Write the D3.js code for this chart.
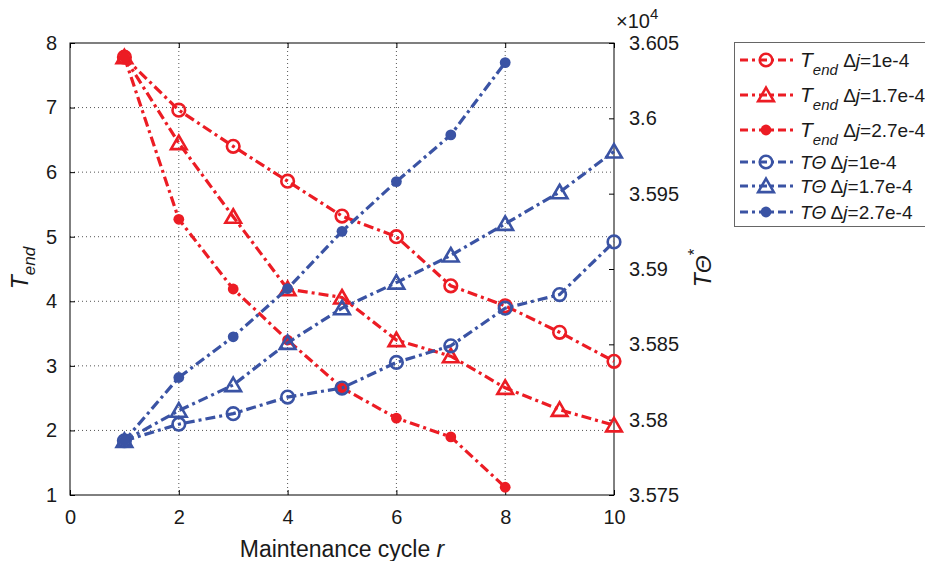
<!DOCTYPE html>
<html>
<head>
<meta charset="utf-8">
<script src="https://cdn.jsdelivr.net/npm/d3@7"></script>
<style>
  html, body { margin: 0; padding: 0; background: #fff; }
  svg { display: block; font-family: Arial, "Liberation Sans", Helvetica, sans-serif; }
</style>
</head>
<body>
<div id="chart"></div>
<script>
'use strict';

// ------------ DATA ---------------- //

const cycles      = [1, 2, 3, 4, 5, 6, 7, 8, 9, 10];
const xTicks      = [0, 2, 4, 6, 8, 10];
const leftTicks   = [1, 2, 3, 4, 5, 6, 7, 8];
const rightTicks  = [35750, 35800, 35850, 35900, 35950, 36000, 36050];

// T_end (left axis)
const tendDj1    = [7.78, 6.96, 6.40, 5.86, 5.32, 5.00, 4.24, 3.93, 3.52, 3.07];
const tendDj17   = [7.78, 6.45, 5.31, 4.19, 4.06, 3.40, 3.15, 2.66, 2.32, 2.08];
const tendDj27   = [7.78, 5.27, 4.19, 3.40, 2.66, 2.19, 1.90, 1.12];

// T-Theta* (right axis)
const thetaDj1   = [35786, 35797, 35804, 35815, 35821, 35838, 35849, 35874, 35883, 35918];
const thetaDj17  = [35786, 35806, 35823, 35851, 35874, 35891, 35909, 35930, 35951, 35978];
const thetaDj27  = [35786, 35828, 35855, 35887, 35925, 35958, 35989, 36037];

const legendLabels = ['1e-4', '1.7e-4', '2.7e-4', '1e-4', '1.7e-4', '2.7e-4'];

// ------------ LAYOUT ---------------- //

const W = 925, H = 561;
const P = {left: 70, right: 614, top: 43, bottom: 495};
const RED  = '#ec1c24';
const BLUE = '#3a53a4';
const DASH = '10,4,3,4';

const x  = d3.scaleLinear().domain([0, 10]).range([P.left, P.right]);
const yL = d3.scaleLinear().domain([1, 8]).range([P.bottom, P.top]);
const yR = d3.scaleLinear().domain([35750, 36050]).range([P.bottom, P.top]);

const svg = d3.select('#chart').append('svg')
    .attr('width', W).attr('height', H);

// grid
const grid = svg.append('g');
grid.selectAll('.gx').data(xTicks.filter(d => d > 0 && d < 10)).enter()
    .append('line')
    .attr('x1', d => x(d)).attr('x2', d => x(d))
    .attr('y1', P.top).attr('y2', P.bottom)
    .attr('stroke', '#555').attr('stroke-width', 1).attr('stroke-dasharray', '1,3');
grid.selectAll('.gy').data(leftTicks.filter(d => d > 1 && d < 8)).enter()
    .append('line')
    .attr('x1', P.left).attr('x2', P.right)
    .attr('y1', d => yL(d)).attr('y2', d => yL(d))
    .attr('stroke', '#555').attr('stroke-width', 1).attr('stroke-dasharray', '1,3');

// axes
const tickFont = g => g.selectAll('text')
    .attr('font-size', 20).attr('fill', '#1a1a1a')
    .attr('font-family', 'Arial, "Liberation Sans", Helvetica, sans-serif');

const axisStyle = g => {
    g.select('.domain').remove();
    g.selectAll('.tick line').attr('stroke', '#000');
    tickFont(g);
};

svg.append('g')
    .attr('transform', `translate(0,${P.bottom})`)
    .call(d3.axisBottom(x).tickValues(xTicks).tickSize(-5).tickPadding(15).tickFormat(d3.format('d')))
    .call(axisStyle);
svg.append('g')
    .attr('transform', `translate(0,${P.top})`)
    .call(d3.axisTop(x).tickValues(xTicks).tickSize(-5).tickFormat(''))
    .call(axisStyle);
svg.append('g')
    .attr('transform', `translate(${P.left},0)`)
    .call(d3.axisLeft(yL).tickValues(leftTicks).tickSize(-5).tickPadding(13).tickFormat(d3.format('d')))
    .call(axisStyle);
svg.append('g')
    .attr('transform', `translate(${P.right},0)`)
    .call(d3.axisRight(yR).tickValues(rightTicks).tickSize(-5).tickPadding(15)
        .tickFormat(d => String(+(d / 1e4).toFixed(3))))
    .call(axisStyle);

// box
svg.append('rect')
    .attr('x', P.left).attr('y', P.top)
    .attr('width', P.right - P.left).attr('height', P.bottom - P.top)
    .attr('fill', 'none').attr('stroke', '#000').attr('stroke-width', 1);

// axis labels
const xl = svg.append('text')
    .attr('x', (P.left + P.right) / 2).attr('y', 557)
    .attr('text-anchor', 'middle').attr('font-size', 23).attr('fill', '#1a1a1a');
xl.append('tspan').text('Maintenance cycle ');
xl.append('tspan').attr('font-style', 'italic').text('r');

const yl = svg.append('text')
    .attr('transform', 'translate(28,268) rotate(-90)')
    .attr('text-anchor', 'middle').attr('font-size', 23).attr('fill', '#1a1a1a');
yl.append('tspan').attr('font-style', 'italic').text('T');
yl.append('tspan').attr('font-style', 'italic').attr('font-size', 17).attr('dy', 7).text('end');

const yr = svg.append('text')
    .attr('transform', 'translate(711,268) rotate(-90)')
    .attr('text-anchor', 'middle').attr('font-size', 23).attr('fill', '#1a1a1a');
yr.append('tspan').attr('font-style', 'italic').text('TΘ');
yr.append('tspan').attr('font-size', 17).attr('dy', -11).text('*');

const ex = svg.append('text')
    .attr('x', 616).attr('y', 28).attr('fill', '#1a1a1a');
ex.append('tspan').attr('font-size', 20).text('×');
ex.append('tspan').attr('font-size', 20).text('10');
ex.append('tspan').attr('font-size', 15).attr('dy', -9).text('4');

// ------------ SERIES ---------------- //

const triPath = s => `M0,${-s * 0.55}L${s * 0.58},${s * 0.45}L${-s * 0.58},${s * 0.45}Z`;

const drawMarker = (g, type, color) => {
    if (type === 'circle') {
        g.append('circle').attr('r', 6.3).attr('fill', 'none')
            .attr('stroke', color).attr('stroke-width', 2.6);
    } else if (type === 'tri') {
        g.append('path').attr('d', triPath(13.5)).attr('fill', 'none')
            .attr('stroke', color).attr('stroke-width', 2.6).attr('stroke-linejoin', 'miter');
    } else {
        g.append('circle').attr('r', 5.4).attr('fill', color);
    }
};

const series = [
    {vals: tendDj1,   y: yL, color: RED,  type: 'circle'},
    {vals: tendDj17,  y: yL, color: RED,  type: 'tri'},
    {vals: tendDj27,  y: yL, color: RED,  type: 'dot'},
    {vals: thetaDj1,  y: yR, color: BLUE, type: 'circle'},
    {vals: thetaDj17, y: yR, color: BLUE, type: 'tri'},
    {vals: thetaDj27, y: yR, color: BLUE, type: 'dot'}
];

series.forEach(s => {
    const pts = s.vals.map((v, i) => [cycles[i], v]);
    const line = d3.line().x(d => x(d[0])).y(d => s.y(d[1]));
    const g = svg.append('g');
    g.append('path').datum(pts).attr('d', line)
        .attr('fill', 'none').attr('stroke', s.color).attr('stroke-width', 3.2)
        .attr('stroke-dasharray', DASH);
    g.selectAll('.m').data(pts).enter().append('g')
        .attr('transform', d => `translate(${x(d[0])},${s.y(d[1])})`)
        .each(function () { drawMarker(d3.select(this), s.type, s.color); });
});

// ------------ LEGEND ---------------- //

const legend = svg.append('g');
legend.append('rect')
    .attr('x', 734.5).attr('y', 42.5).attr('width', 200).attr('height', 184)
    .attr('fill', '#fff').attr('stroke', '#666').attr('stroke-width', 1);

const legendY = [60, 95, 130, 162, 186, 212];
series.forEach((s, i) => {
    const g = legend.append('g').attr('transform', `translate(0,${legendY[i]})`);
    g.append('line').attr('x1', 740).attr('x2', 793).attr('y1', 0).attr('y2', 0)
        .attr('stroke', s.color).attr('stroke-width', 3.2).attr('stroke-dasharray', '8,4,3,4');
    const m = g.append('g').attr('transform', 'translate(766,0)');
    drawMarker(m, s.type, s.color);
    const t = g.append('text').attr('x', 800).attr('y', 7)
        .attr('font-size', 19).attr('fill', '#1a1a1a');
    if (i < 3) {
        t.append('tspan').attr('font-style', 'italic').attr('font-size', 21).text('T');
        t.append('tspan').attr('font-style', 'italic').attr('font-size', 15).attr('dy', 8).text('end');
        t.append('tspan').attr('dy', -8).text(' Δ');
    } else {
        t.append('tspan').attr('font-style', 'italic').text('TΘ');
        t.append('tspan').text(' Δ');
    }
    t.append('tspan').attr('font-style', 'italic').text('j');
    t.append('tspan').text('=' + legendLabels[i]);
});
</script>
</body>
</html>
